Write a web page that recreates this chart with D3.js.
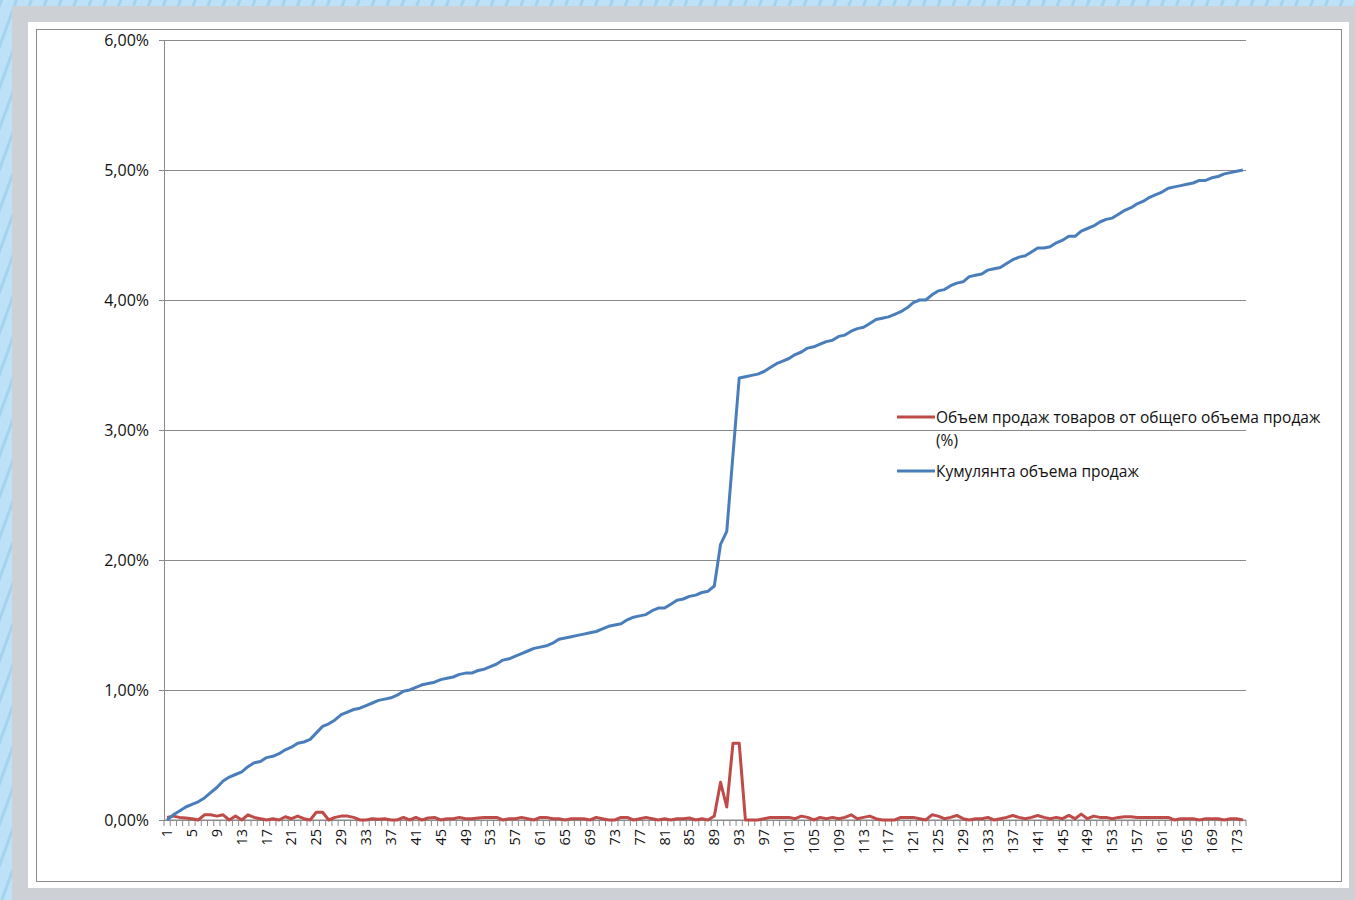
<!DOCTYPE html>
<html>
<head>
<meta charset="utf-8">
<script src="https://cdn.jsdelivr.net/npm/d3@7"></script>
<style>
  html, body { margin: 0; padding: 0; background: #bfe2f6; }
  svg { display: block; }
  text { font-family: "Open Sans", "Noto Sans", sans-serif; fill: #111; }
</style>
</head>
<body>
<svg id="chart" width="1355" height="900"></svg>
<script>
// Product numbers along the category axis
const categories = d3.range(1, 175);

// Share of each product in total sales, %
const shareValues = [
  0.02,0.03,0.02,0.015,0.01,0.00,0.04,0.04,0.03,0.04,
  0.00,0.03,0.00,0.04,0.02,0.01,0.00,0.01,0.00,0.025,
  0.01,0.03,0.01,0.00,0.06,0.06,0.00,0.02,0.03,0.03,
  0.02,0.00,0.00,0.01,0.005,0.01,0.00,0.00,0.02,0.00,
  0.02,0.00,0.015,0.02,0.00,0.01,0.01,0.02,0.01,0.01,
  0.015,0.02,0.02,0.02,0.00,0.01,0.01,0.02,0.01,0.00,
  0.02,0.02,0.01,0.01,0.00,0.01,0.01,0.01,0.00,0.02,
  0.01,0.00,0.00,0.02,0.02,0.00,0.01,0.02,0.01,0.00,
  0.01,0.00,0.01,0.01,0.015,0.00,0.01,0.00,0.03,0.29,
  0.10,0.59,0.59,0.00,0.00,0.00,0.01,0.02,0.02,0.02,
  0.02,0.01,0.03,0.02,0.00,0.02,0.01,0.02,0.01,0.02,
  0.04,0.01,0.02,0.03,0.01,0.00,0.00,0.00,0.02,0.02,
  0.02,0.01,0.00,0.04,0.03,0.01,0.02,0.035,0.01,0.00,
  0.01,0.01,0.02,0.00,0.01,0.02,0.035,0.02,0.01,0.02,
  0.035,0.02,0.01,0.02,0.01,0.035,0.01,0.045,0.01,0.03,
  0.02,0.02,0.01,0.02,0.025,0.025,0.02,0.02,0.02,0.02,
  0.02,0.02,0.00,0.01,0.01,0.01,0.00,0.01,0.01,0.01,
  0.00,0.01,0.01,0.00
];

// Cumulative sales volume, %
const cumulativeValues = [
  0.00,0.04,0.07,0.10,0.12,0.14,0.17,0.21,0.25,0.30,
  0.33,0.35,0.37,0.41,0.44,0.45,0.48,0.49,0.51,0.54,
  0.56,0.59,0.60,0.62,0.67,0.72,0.74,0.77,0.81,0.83,
  0.85,0.86,0.88,0.90,0.92,0.93,0.94,0.96,0.99,1.00,
  1.02,1.04,1.05,1.06,1.08,1.09,1.10,1.12,1.13,1.13,
  1.15,1.16,1.18,1.20,1.23,1.24,1.26,1.28,1.30,1.32,
  1.33,1.34,1.36,1.39,1.40,1.41,1.42,1.43,1.44,1.45,
  1.47,1.49,1.50,1.51,1.54,1.56,1.57,1.58,1.61,1.63,
  1.63,1.66,1.69,1.70,1.72,1.73,1.75,1.76,1.80,2.12,
  2.22,2.81,3.40,3.41,3.42,3.43,3.45,3.48,3.51,3.53,
  3.55,3.58,3.60,3.63,3.64,3.66,3.68,3.69,3.72,3.73,
  3.76,3.78,3.79,3.82,3.85,3.86,3.87,3.89,3.91,3.94,
  3.98,4.00,4.00,4.04,4.07,4.08,4.11,4.13,4.14,4.18,
  4.19,4.20,4.23,4.24,4.25,4.28,4.31,4.33,4.34,4.37,
  4.40,4.40,4.41,4.44,4.46,4.49,4.49,4.53,4.55,4.57,
  4.60,4.62,4.63,4.66,4.69,4.71,4.74,4.76,4.79,4.81,
  4.83,4.86,4.87,4.88,4.89,4.90,4.92,4.92,4.94,4.95,
  4.97,4.98,4.99,5.00
];

const yTicks = [0, 1, 2, 3, 4, 5, 6];
const xTickLabels = categories.filter(c => (c - 1) % 4 === 0);

const seriesNames = [
  "Объем продаж товаров от общего объема продаж",
  "(%)",
  "Кумулянта объема продаж"
];

const svg = d3.select("#chart");

// Slide backdrop with faint diagonal streaks
const defs = svg.append("defs");
const pat = defs.append("pattern")
  .attr("id", "streaks").attr("patternUnits", "userSpaceOnUse")
  .attr("width", 14).attr("height", 14).attr("patternTransform", "rotate(20)");
pat.append("rect").attr("width", 14).attr("height", 14).attr("fill", "#bde2f7");
pat.append("rect").attr("x", 0).attr("width", 3).attr("height", 14).attr("fill", "#a5d3ee");
svg.append("rect").attr("width", 1355).attr("height", 900).attr("fill", "url(#streaks)");

// Grey frame, white card and the chart border
svg.append("rect").attr("x", 12).attr("y", 6).attr("width", 1343).attr("height", 894).attr("fill", "#cdd1d6");
svg.append("rect").attr("x", 28).attr("y", 22).attr("width", 1321).attr("height", 866).attr("fill", "#ffffff");
svg.append("rect").attr("x", 36.5).attr("y", 29.5).attr("width", 1305).attr("height", 852)
  .attr("fill", "none").attr("stroke", "#8c8c8c").attr("stroke-width", 1);

const plot = { left: 164, right: 1246, top: 40, bottom: 820 };

const x = d3.scaleBand().domain(categories).range([plot.left, plot.right]).padding(0);
const y = d3.scaleLinear().domain([0, 6]).range([plot.bottom, plot.top]);
const cx = c => x(c) + x.bandwidth() / 2;

const fmt = d => d.toFixed(2).replace(".", ",") + "%";

// Horizontal gridlines
const grid = svg.append("g").attr("transform", `translate(${plot.left},0)`)
  .call(d3.axisLeft(y).tickValues(yTicks).tickSize(-(plot.right - plot.left)).tickFormat(""));
grid.select(".domain").remove();
grid.selectAll(".tick line").attr("stroke", "#8a8a8a").attr("stroke-width", 1);

// Value axis
const yAxis = svg.append("g").attr("transform", `translate(${plot.left},0)`)
  .call(d3.axisLeft(y).tickValues(yTicks).tickSize(5).tickPadding(10).tickFormat(fmt));
yAxis.select(".domain").attr("stroke", "#8a8a8a");
yAxis.selectAll(".tick line").attr("stroke", "#8a8a8a");
yAxis.selectAll("text").attr("font-size", 16).attr("fill", "#111")
  .style("font-family", "'Open Sans', sans-serif");

// Category axis: tick marks on band boundaries, every fourth label
const xAxisG = svg.append("g");
xAxisG.append("line")
  .attr("x1", plot.left).attr("x2", plot.right)
  .attr("y1", y(0)).attr("y2", y(0)).attr("stroke", "#8a8a8a");
const bounds = categories.map(c => x(c)).concat([x(categories[categories.length - 1]) + x.bandwidth()]);
xAxisG.selectAll("line.tk").data(bounds).join("line").attr("class", "tk")
  .attr("x1", d => d).attr("x2", d => d)
  .attr("y1", y(0)).attr("y2", y(0) + 6)
  .attr("stroke", "#8a8a8a");
xAxisG.selectAll("text").data(xTickLabels).join("text")
  .attr("transform", d => `translate(${cx(d) + 5},${y(0) + 9}) rotate(-90)`)
  .attr("text-anchor", "end")
  .attr("font-size", 14.5)
  .text(d => d);

// Series lines
const line = vals => d3.line().x((d, i) => cx(categories[i])).y(d => y(d))(vals);

svg.append("path").attr("d", line(shareValues))
  .attr("fill", "none").attr("stroke", "#be4b48").attr("stroke-width", 3)
  .attr("stroke-linejoin", "round");
svg.append("path").attr("d", line(cumulativeValues))
  .attr("fill", "none").attr("stroke", "#4a7ebb").attr("stroke-width", 3)
  .attr("stroke-linejoin", "round");

// Legend
const legend = svg.append("g");
legend.append("line").attr("x1", 897).attr("x2", 935).attr("y1", 417).attr("y2", 417)
  .attr("stroke", "#be4b48").attr("stroke-width", 3);
legend.append("text").attr("x", 936).attr("y", 422.5).attr("font-size", 15.5).text(seriesNames[0]);
legend.append("text").attr("x", 936).attr("y", 446).attr("font-size", 15.5).text(seriesNames[1]);
legend.append("line").attr("x1", 897).attr("x2", 935).attr("y1", 471).attr("y2", 471)
  .attr("stroke", "#4a7ebb").attr("stroke-width", 3);
legend.append("text").attr("x", 936).attr("y", 476.5).attr("font-size", 15.5).text(seriesNames[2]);
</script>
</body>
</html>
